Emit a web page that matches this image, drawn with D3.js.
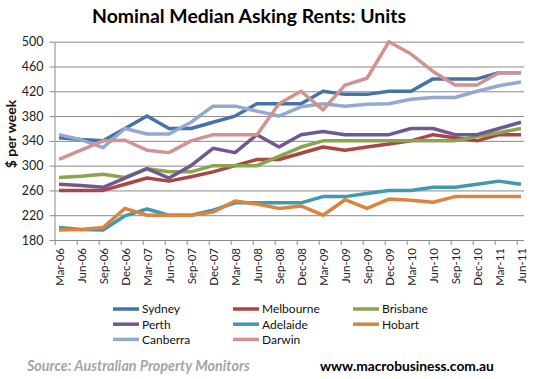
<!DOCTYPE html>
<html>
<head>
<meta charset="utf-8">
<script src="https://cdn.jsdelivr.net/npm/d3@7"></script>
<style>
  body { margin: 0; background: #fff; }
  text { font-family: Lato, "Open Sans", sans-serif; }
</style>
</head>
<body>
<div id="chart"></div>
<script>
// quarters, Mar-06 .. Jun-11
var quarters = ["Mar-06", "Jun-06", "Sep-06", "Dec-06", "Mar-07", "Jun-07", "Sep-07", "Dec-07",
  "Mar-08", "Jun-08", "Sep-08", "Dec-08", "Mar-09", "Jun-09", "Sep-09", "Dec-09",
  "Mar-10", "Jun-10", "Sep-10", "Dec-10", "Mar-11", "Jun-11"];

var sydney    = [345, 342, 340, 360, 380, 360, 360, 370, 380, 400, 400, 400, 420, 415, 415, 420, 420, 440, 440, 440, 450, 450];
var melbourne = [260, 260, 260, 270, 280, 275, 282, 290, 300, 310, 310, 320, 330, 325, 330, 335, 340, 350, 345, 340, 350, 350];
var brisbane  = [281, 283, 286, 281, 295, 290, 290, 300, 300, 300, 315, 330, 340, 340, 340, 340, 340, 340, 340, 347, 353, 360];
var perth     = [270, 268, 265, 280, 295, 280, 300, 328, 321, 350, 330, 350, 355, 350, 350, 350, 360, 360, 350, 350, 360, 370];
var adelaide  = [200, 197, 196, 219, 230, 220, 220, 228, 240, 240, 240, 240, 250, 250, 255, 260, 260, 265, 265, 270, 275, 270];
var hobart    = [196, 197, 200, 231, 220, 220, 220, 225, 243, 238, 231, 235, 220, 245, 231, 246, 244, 241, 250, 250, 250, 250];
var canberra  = [350, 342, 329, 360, 351, 351, 370, 396, 396, 388, 380, 395, 400, 396, 399, 400, 407, 410, 410, 420, 429, 435];
var darwin    = [310, 325, 340, 341, 325, 321, 340, 350, 350, 350, 400, 420, 390, 430, 441, 500, 480, 452, 430, 430, 450, 450];

var yTicks = [180, 220, 260, 300, 340, 380, 420, 460, 500];

var series = [
  { name: "Sydney",    values: sydney,    color: "#4572A7" },
  { name: "Melbourne", values: melbourne, color: "#AA4643" },
  { name: "Brisbane",  values: brisbane,  color: "#89A54E" },
  { name: "Perth",     values: perth,     color: "#71588F" },
  { name: "Adelaide",  values: adelaide,  color: "#4198AF" },
  { name: "Hobart",    values: hobart,    color: "#DB843D" },
  { name: "Canberra",  values: canberra,  color: "#93A9CF" },
  { name: "Darwin",    values: darwin,    color: "#D19392" }
];

var svgWidth = 534, svgHeight = 379;
var plot = { left: 54.5, right: 524, top: 41.7, bottom: 240 };

var svg = d3.select("#chart").append("svg")
  .attr("width", svgWidth)
  .attr("height", svgHeight);

// shrink/grow a text so it spans the wanted width
function fitText(sel, width) {
  var size = parseFloat(sel.attr("font-size"));
  var len = sel.node().getComputedTextLength();
  sel.attr("font-size", (size * width / len).toFixed(2));
}

var x = d3.scalePoint().domain(quarters).range([59, 521]);
var y = d3.scaleLinear().domain([180, 500]).range([plot.bottom, plot.top]);

// gridlines
svg.append("g")
  .attr("transform", `translate(${plot.left},0)`)
  .call(d3.axisLeft(y).tickValues(yTicks).tickSize(-(plot.right - plot.left)).tickFormat(""))
  .call(g => g.select(".domain").remove())
  .selectAll("line").attr("stroke", "#8a8a8a").attr("stroke-width", 1);

// y axis
var yAxis = svg.append("g")
  .attr("transform", `translate(${plot.left},0)`)
  .call(d3.axisLeft(y).tickValues(yTicks).tickSize(5).tickPadding(6).tickSizeOuter(0));
yAxis.select(".domain").attr("stroke", "#8a8a8a");
yAxis.selectAll("line").attr("stroke", "#8a8a8a");
yAxis.selectAll("text").attr("font-size", 12.5).attr("fill", "#222");

// x axis
var xAxis = svg.append("g")
  .attr("transform", `translate(0,${plot.bottom})`)
  .call(d3.axisBottom(x).tickSize(5).tickSizeOuter(0));
xAxis.select(".domain").attr("d", `M${plot.left},0.5H${plot.right}`).attr("stroke", "#8a8a8a");
xAxis.selectAll(".tick line").attr("stroke", "#8a8a8a").attr("transform", "translate(-4.3,0)");
xAxis.selectAll(".tick text")
  .attr("font-size", 11.5)
  .attr("fill", "#222")
  .attr("text-anchor", "end")
  .attr("transform", "rotate(-90)")
  .attr("x", -8)
  .attr("y", 0)
  .attr("dy", "0.36em");

// y axis title
svg.append("text")
  .attr("transform", "rotate(-90)")
  .attr("x", -134)
  .attr("y", 16)
  .attr("text-anchor", "middle")
  .attr("font-size", 14)
  .attr("font-weight", "bold")
  .attr("fill", "#111")
  .text("$ per week");

// lines
var line = d3.line()
  .x((d, i) => x(quarters[i]))
  .y(d => y(d));

svg.append("g").selectAll("path")
  .data(series)
  .enter()
  .append("path")
  .attr("d", d => line(d.values))
  .attr("fill", "none")
  .attr("stroke", d => d.color)
  .attr("stroke-width", 3.5)
  .attr("stroke-linejoin", "round");

// legend, three columns
var legend = svg.append("g").selectAll("g")
  .data(series)
  .enter()
  .append("g")
  .attr("transform", (d, i) => `translate(${113 + (i % 3) * 120},${309 + Math.floor(i / 3) * 15.2})`);

legend.append("line")
  .attr("x1", 0).attr("x2", 26)
  .attr("stroke", d => d.color)
  .attr("stroke-width", 3.5);

legend.append("text")
  .attr("x", 29)
  .attr("dy", "0.36em")
  .attr("font-size", 12)
  .attr("fill", "#111")
  .text(d => d.name);

// title
var title = svg.append("text")
  .attr("x", 249)
  .attr("y", 23)
  .attr("text-anchor", "middle")
  .attr("font-size", 18)
  .attr("font-weight", "bold")
  .attr("fill", "#000")
  .text("Nominal Median Asking Rents: Units");
fitText(title, 314);

// footer
var source = svg.append("text")
  .attr("x", 27)
  .attr("y", 371)
  .attr("font-size", 14)
  .attr("font-weight", "bold")
  .attr("font-style", "italic")
  .attr("fill", "#a6a6a6")
  .text("Source: Australian Property Monitors");
fitText(source, 223);

var site = svg.append("text")
  .attr("x", 320)
  .attr("y", 371)
  .attr("font-size", 14)
  .attr("font-weight", "bold")
  .attr("fill", "#000")
  .text("www.macrobusiness.com.au");
fitText(site, 174);
</script>
</body>
</html>
